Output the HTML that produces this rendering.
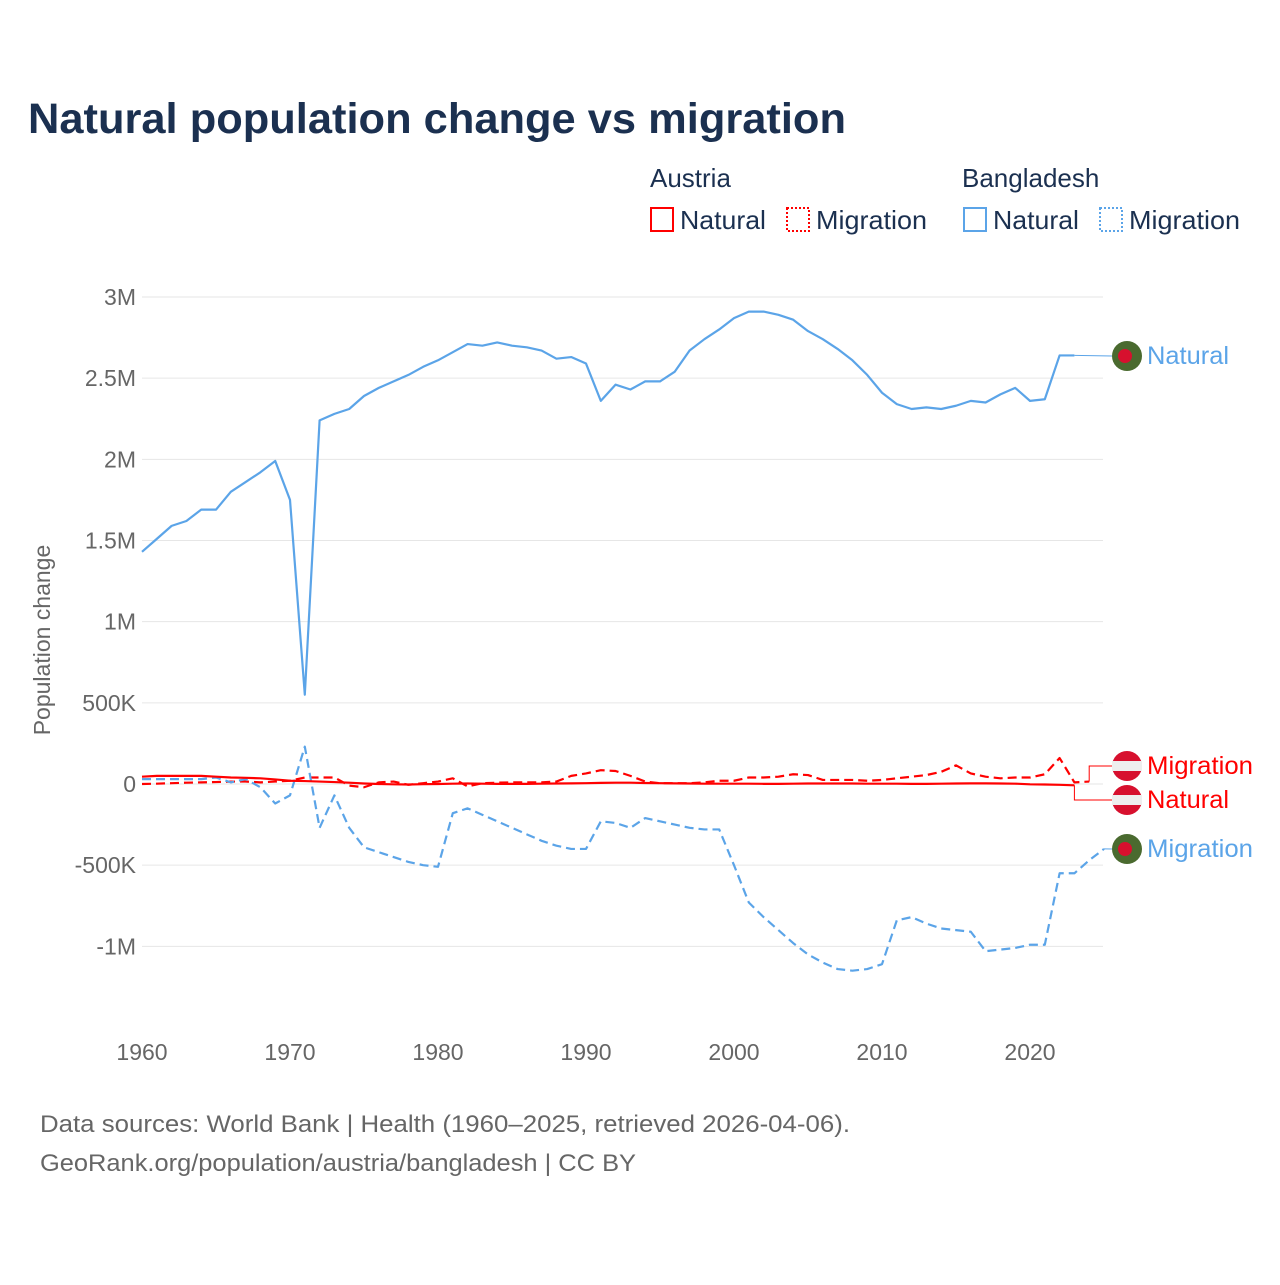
<!DOCTYPE html>
<html><head><meta charset="utf-8"><style>
body{margin:0;background:#fff;}
svg text{font-family:"Liberation Sans",sans-serif;}
</style></head><body>
<svg id="chart" width="1280" height="1280" xmlns="http://www.w3.org/2000/svg">
<text x="28" y="133" font-size="43" font-weight="bold" fill="#1b3050" textLength="818" lengthAdjust="spacingAndGlyphs">Natural population change vs migration</text>
<g font-size="26" fill="#1b3050">
<text x="650" y="187">Austria</text>
<text x="962" y="187">Bangladesh</text>
<g><rect x="651" y="208" width="22" height="23" fill="none" stroke="#f00" stroke-width="2"/><text x="680" y="229" textLength="86" lengthAdjust="spacingAndGlyphs">Natural</text></g>
<g><rect x="787" y="208" width="22" height="23" fill="none" stroke="#f00" stroke-width="2" stroke-dasharray="2,2"/><text x="816" y="229" textLength="111" lengthAdjust="spacingAndGlyphs">Migration</text></g>
<g><rect x="964" y="208" width="22" height="23" fill="none" stroke="#5ba4e8" stroke-width="2"/><text x="993" y="229" textLength="86" lengthAdjust="spacingAndGlyphs">Natural</text></g>
<g><rect x="1100" y="208" width="22" height="23" fill="none" stroke="#5ba4e8" stroke-width="2" stroke-dasharray="2,2"/><text x="1129" y="229" textLength="111" lengthAdjust="spacingAndGlyphs">Migration</text></g>
</g>
<g id="grid"></g>
<g id="yticks" font-size="23" fill="#666" text-anchor="end"></g>
<g id="xticks" font-size="23" fill="#666" text-anchor="middle"></g>
<text transform="translate(50,640) rotate(-90)" font-size="23" fill="#666" text-anchor="middle">Population change</text>
<g id="series"></g>
<g id="labels" font-size="25"></g>
<text x="40" y="1132" font-size="24" fill="#666" textLength="810" lengthAdjust="spacingAndGlyphs">Data sources: World Bank | Health (1960–2025, retrieved 2026-04-06).</text>
<text x="40" y="1171" font-size="24" fill="#666" textLength="596" lengthAdjust="spacingAndGlyphs">GeoRank.org/population/austria/bangladesh | CC BY</text>
</svg>
<script>
const years=[];for(let y=1960;y<=2025;y++)years.push(y);
const yTicks=[3000000,2500000,2000000,1500000,1000000,500000,0,-500000,-1000000];
const yTickLabels=["3M","2.5M","2M","1.5M","1M","500K","0","-500K","-1M"];
const xTicks=[1960,1970,1980,1990,2000,2010,2020];
const bdNatural=[1.43,1.51,1.59,1.62,1.69,1.69,1.80,1.86,1.92,1.99,1.75,0.55,2.24,2.28,2.31,2.39,2.44,2.48,2.52,2.57,2.61,2.66,2.71,2.70,2.72,2.70,2.69,2.67,2.62,2.63,2.59,2.36,2.46,2.43,2.48,2.48,2.54,2.67,2.74,2.80,2.87,2.91,2.91,2.89,2.86,2.79,2.74,2.68,2.61,2.52,2.41,2.34,2.31,2.32,2.31,2.33,2.36,2.35,2.40,2.44,2.36,2.37,2.64,2.64];
const bdMigration=[30,30,30,30,30,40,10,30,-20,-120,-70,230,-270,-70,-270,-390,-420,-450,-480,-500,-510,-180,-150,-190,-230,-270,-310,-350,-380,-400,-400,-230,-240,-270,-210,-230,-250,-270,-280,-280,-500,-730,-820,-900,-980,-1050,-1100,-1140,-1150,-1140,-1110,-840,-820,-860,-890,-900,-910,-1030,-1020,-1010,-990,-990,-550,-550,-470,-400];
const atNatural=[45,50,50,50,50,45,40,38,35,28,20,18,15,12,8,3,0,-2,-3,-1,0,2,3,2,1,1,1,2,3,4,5,7,8,8,6,5,4,3,2,2,2,2,1,1,2,3,3,3,3,2,2,2,1,1,2,3,4,4,3,2,-2,-3,-5,-8];
const atMigration=[0,2,5,8,10,12,15,15,10,15,20,40,40,40,-10,-20,10,15,-5,5,15,35,-15,5,8,10,10,10,15,50,65,85,80,50,15,5,5,5,10,20,20,40,40,45,60,55,25,25,25,20,25,35,45,55,75,115,65,45,35,40,40,60,160,10,15];
const X=yr=>142+(yr-1960)*14.8;
const Y=v=>784-v/500000*81.17;
const NS="http://www.w3.org/2000/svg";
function mk(tag,attrs,parent){const e=document.createElementNS(NS,tag);for(const k in attrs)e.setAttribute(k,attrs[k]);parent.appendChild(e);return e;}
const grid=document.getElementById('grid'),yt=document.getElementById('yticks'),xt=document.getElementById('xticks');
yTicks.forEach((v,i)=>{
 const l=mk('line',{x1:142,x2:1103,y1:Y(v),y2:Y(v),stroke:'#e6e6e6','stroke-width':1},grid);
 
 
 const t=mk('text',{x:136,y:Y(v)+8},yt);t.textContent=yTickLabels[i];
 
 
});
xTicks.forEach(yr=>{
 const t=mk('text',{x:X(yr),y:1060},xt);t.textContent=yr;
 
 
});
const ser=document.getElementById('series');
function line(vals,scale,color,dash,name){
 const pts=vals.map((v,i)=>X(years[i])+','+Y(v*scale)).join(' ');
 const p=mk('polyline',{points:pts,fill:'none',stroke:color,'stroke-width':2.2,'stroke-linejoin':'round'},ser);
 if(dash)p.setAttribute('stroke-dasharray',dash);
 
 
 return vals.length;
}
line(atMigration,1000,'#f00','9,5','austria-migration-line');
line(bdMigration,1000,'#5ba4e8','9,5','bangladesh-migration-line');
line(atNatural,1000,'#f00',null,'austria-natural-line');
line(bdNatural,1000000,'#5ba4e8',null,'bangladesh-natural-line');
const lab=document.getElementById('labels');
function endLabel(vals,scale,color,ly,text,flag,name){
 const n=vals.length-1,ex=X(years[n]),ey=Y(vals[n]*scale);
 const c=mk('polyline',{points:`${ex},${ey} ${ex},${ly} 1112,${ly}`,fill:'none',stroke:color,'stroke-width':1},lab);
 if(Math.abs(ey-ly)<2)c.setAttribute('points',`${ex},${ey} 1112,${ly}`);
 
 
 const g=mk('g',{},lab);
 
 
 if(flag==='at'){
  mk('circle',{cx:1127,cy:ly,r:15,fill:'#d7102e'},g);
  mk('rect',{x:1112,y:ly-5,width:30,height:10,fill:'#eee'},g);
 }else{
  mk('circle',{cx:1127,cy:ly,r:15,fill:'#4a6a2f'},g);
  mk('circle',{cx:1125,cy:ly,r:7,fill:'#d7102e'},g);
 }
 const t=mk('text',{x:1147,y:ly+8,fill:color},lab);t.textContent=text;
 t.setAttribute('textLength',text==='Natural'?82:106);
 t.setAttribute('lengthAdjust','spacingAndGlyphs');
 
 
}
endLabel(bdNatural,1000000,'#5ba4e8',356,'Natural','bd','bangladesh-natural');
endLabel(atMigration,1000,'#f00',766,'Migration','at','austria-migration');
endLabel(atNatural,1000,'#f00',800,'Natural','at','austria-natural');
endLabel(bdMigration,1000,'#5ba4e8',849,'Migration','bd','bangladesh-migration');
</script>
</body></html>
